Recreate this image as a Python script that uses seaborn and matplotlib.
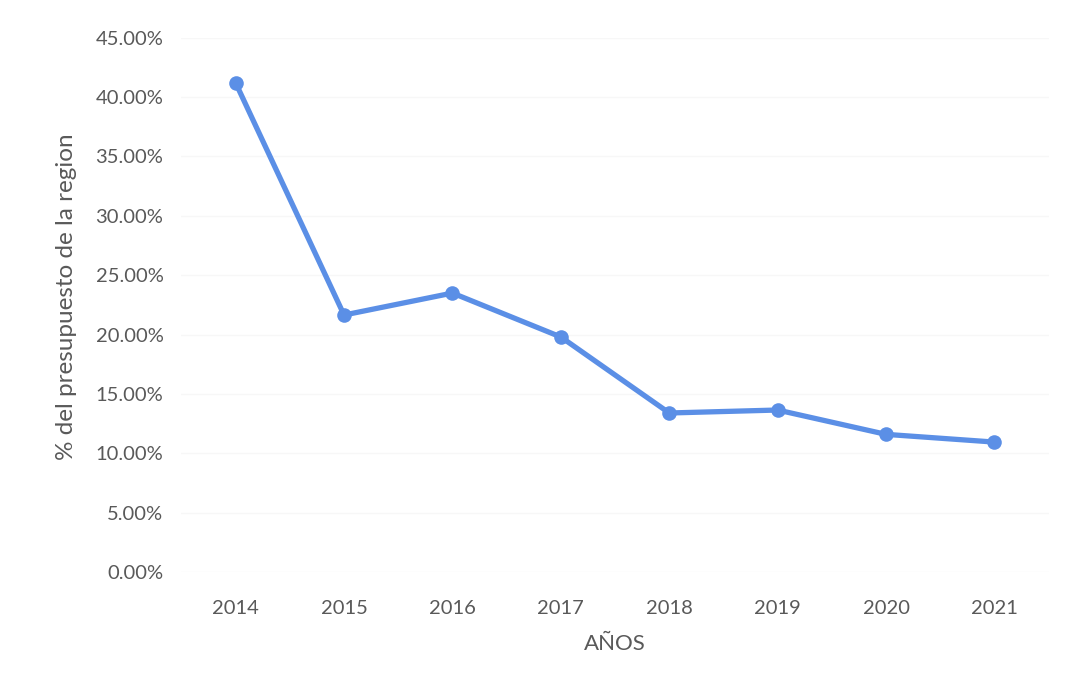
import matplotlib
matplotlib.use("Agg")
import matplotlib.pyplot as plt
import seaborn as sns
import pandas as pd
from matplotlib.ticker import FuncFormatter, MultipleLocator

years = ["2014", "2015", "2016", "2017", "2018", "2019", "2020", "2021"]
pct = [41.2, 21.65, 23.5, 19.8, 13.4, 13.65, 11.6, 10.95]

df = pd.DataFrame({"AÑOS": years, "pct": pct})

sns.set_theme(style="white")
plt.rcParams['font.family'] = ['Lato', 'DejaVu Sans']

fig = plt.figure(figsize=(10.8, 6.86), dpi=100)
ax = fig.add_axes([0.168, 0.166, 0.803, 0.779])

sns.lineplot(data=df, x="AÑOS", y="pct", ax=ax, sort=False, color="#5b8fe6",
             linewidth=3.8, marker="o", markersize=10.5, markeredgewidth=0)

ax.set_ylim(0, 45)
ax.set_xlim(-0.5, len(years) - 0.5)
ax.yaxis.set_major_locator(MultipleLocator(5))
ax.yaxis.set_major_formatter(FuncFormatter(lambda v, p: f"{v:.2f}%"))
ax.grid(axis="y", color="#f7f7f7", linewidth=1)
for s in ax.spines.values():
    s.set_visible(False)
ax.tick_params(axis="both", labelsize=14.5, colors="#595959", length=0)
ax.tick_params(axis="y", pad=13)
ax.tick_params(axis="x", pad=20)
ax.set_xlabel("AÑOS", fontsize=16, color="#595959", labelpad=12)
ax.set_ylabel("% del presupuesto de la region", fontsize=17.5, color="#595959", labelpad=13)
ax.yaxis.set_label_coords(-0.12, 0.515)

fig.savefig("out.png", dpi=100, facecolor="white")
